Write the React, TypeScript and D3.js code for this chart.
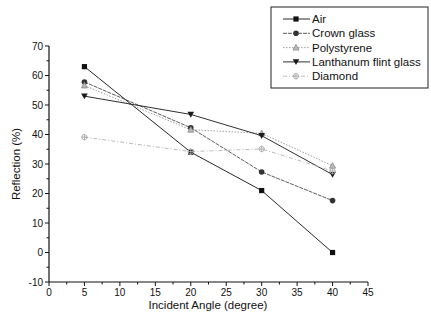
import React from 'react';
import * as d3 from 'd3';

const angles = [5, 20, 30, 40];
const seriesNames = ['Air', 'Crown glass', 'Polystyrene', 'Lanthanum flint glass', 'Diamond'];
const airValues = [63, 34, 21, 0];
const crownValues = [57.8, 42.3, 27.3, 17.6];
const polyValues = [56.6, 41.6, 40.4, 29.4];
const lanthanumValues = [53, 46.8, 39.6, 26.4];
const diamondValues = [39.1, 34.2, 35.1, 27.6];
const xTicks = [0, 5, 10, 15, 20, 25, 30, 35, 40, 45];
const yTicks = [-10, 0, 10, 20, 30, 40, 50, 60, 70];

const W = 431;
const H = 320;

const styles = [
  { color: '#111', dash: 'none', width: 0.9, marker: 'square' },
  { color: '#333', dash: '4,1', width: 0.8, marker: 'circle' },
  { color: '#888', dash: '1.5,1.5', width: 0.8, marker: 'triUp' },
  { color: '#1a1a1a', dash: 'none', width: 0.9, marker: 'triDown' },
  { color: '#aaa', dash: '4,2,1,2', width: 0.8, marker: 'cross' },
];

const Marker = ({ type, x, y, color }: { type: string; x: number; y: number; color: string }) => {
  if (type === 'square') return <rect x={x - 2.6} y={y - 2.6} width={5.2} height={5.2} fill={color} />;
  if (type === 'circle') return <circle cx={x} cy={y} r={2.8} fill={color} />;
  if (type === 'triUp')
    return (
      <path
        d={`M${x},${y - 3.2}L${x + 3},${y + 2.4}L${x - 3},${y + 2.4}Z`}
        fill="#bbb"
        stroke={color}
        strokeWidth={0.8}
      />
    );
  if (type === 'triDown')
    return <path d={`M${x - 3.3},${y - 2.6}L${x + 3.3},${y - 2.6}L${x},${y + 3.2}Z`} fill={color} />;
  return (
    <g stroke={color} strokeWidth={0.9} fill="none">
      <circle cx={x} cy={y} r={2.6} />
      <line x1={x - 3.3} x2={x + 3.3} y1={y} y2={y} />
      <line x1={x} x2={x} y1={y - 3.3} y2={y + 3.3} />
    </g>
  );
};

export default function App() {
  const x = d3.scaleLinear().domain([0, 45]).range([49, 368]);
  const y = d3.scaleLinear().domain([-10, 70]).range([282, 46]);
  const allValues = [airValues, crownValues, polyValues, lanthanumValues, diamondValues];
  const line = d3
    .line<number>()
    .x((_, i) => x(angles[i]))
    .y((d) => y(d));

  const xMinor = d3.range(0, 45.1, 2.5);
  const yMinor = d3.range(-10, 70.1, 5);
  const font = 'Liberation Sans, Arial, sans-serif';

  return (
    <svg
      width={W}
      height={H}
      style={{ position: 'absolute', left: 0, top: 0, background: '#fff' }}
      fontFamily={font}
    >
      {/* axes */}
      <line x1={x(0)} x2={x(45)} y1={y(-10)} y2={y(-10)} stroke="#111" strokeWidth={1.2} />
      <line x1={x(0)} x2={x(0)} y1={y(-10)} y2={y(70)} stroke="#111" strokeWidth={1.2} />
      {xMinor.map((t) => (
        <line
          key={'xm' + t}
          x1={x(t)}
          x2={x(t)}
          y1={y(-10)}
          y2={y(-10) + (t % 5 === 0 ? 4 : 2.5)}
          stroke="#111"
          strokeWidth={1}
        />
      ))}
      {yMinor.map((t) => (
        <line
          key={'ym' + t}
          x1={x(0)}
          x2={x(0) - (t % 10 === 0 ? 4 : 2.5)}
          y1={y(t)}
          y2={y(t)}
          stroke="#111"
          strokeWidth={1}
        />
      ))}
      {xTicks.map((t) => (
        <text key={'xt' + t} x={x(t)} y={y(-10) + 14} fontSize={10} textAnchor="middle" fill="#111">
          {t}
        </text>
      ))}
      {yTicks.map((t) => (
        <text key={'yt' + t} x={x(0) - 6} y={y(t) + 3.5} fontSize={10} textAnchor="end" fill="#111">
          {t}
        </text>
      ))}
      <text x={208} y={309} fontSize={11.5} textAnchor="middle" fill="#111">
        Incident Angle (degree)
      </text>
      <text
        transform={`translate(20,${y(30)}) rotate(-90)`}
        fontSize={11.5}
        textAnchor="middle"
        fill="#111"
      >
        Reflection (%)
      </text>

      {/* series */}
      {allValues.map((vals, si) => (
        <g key={'s' + si}>
          <path
            d={line(vals) || ''}
            fill="none"
            stroke={styles[si].color}
            strokeWidth={styles[si].width}
            strokeDasharray={styles[si].dash}
          />
          {vals.map((v, i) => (
            <Marker key={i} type={styles[si].marker} x={x(angles[i])} y={y(v)} color={styles[si].color} />
          ))}
        </g>
      ))}

      {/* legend */}
      <rect x={271} y={7} width={157} height={81} fill="#fff" stroke="#222" strokeWidth={1} />
      {seriesNames.map((name, i) => {
        const ly = 19 + i * 14.3;
        return (
          <g key={'l' + i}>
            <line
              x1={283}
              x2={310}
              y1={ly}
              y2={ly}
              stroke={styles[i].color}
              strokeWidth={styles[i].width}
              strokeDasharray={styles[i].dash}
            />
            <Marker type={styles[i].marker} x={296} y={ly} color={styles[i].color} />
            <text x={312} y={ly + 4} fontSize={11.5} fill="#111">
              {name}
            </text>
          </g>
        );
      })}
    </svg>
  );
}
